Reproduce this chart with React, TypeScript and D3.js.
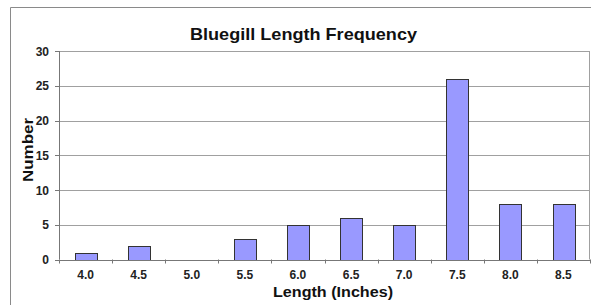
import * as d3 from "d3";

const lengths = ["4.0", "4.5", "5.0", "5.5", "6.0", "6.5", "7.0", "7.5", "8.0", "8.5"];
const counts = [1, 2, 0, 3, 5, 6, 5, 26, 8, 8];
const yTicks = [0, 5, 10, 15, 20, 25, 30];

const W = 591;
const H = 305;
const m = { left: 59, top: 51, right: 1, bottom: 45.5 };

export default function App() {
  const x = d3
    .scaleBand<string>()
    .domain(lengths)
    .range([m.left, W - m.right]);
  const y = d3
    .scaleLinear()
    .domain([0, 30])
    .range([H - m.bottom, m.top]);

  const barW = x.bandwidth() * 0.41;
  const font = "Arial, 'Liberation Sans', sans-serif";
  const plotBottom = y(0);
  const plotRight = W - m.right;

  // band edges for the category ticks
  const edges = lengths.map((d) => x(d) as number).concat([plotRight]);

  return (
    <svg
      width={W}
      height={H}
      style={{ position: "absolute", left: 0, top: 0, background: "#fff" }}
      fontFamily={font}
    >
      {/* outer chart frame */}
      <path d={`M10.5,${H} V7.5 H${W}`} fill="none" stroke="#8a8a8a" />

      <text
        x={303.5}
        y={40}
        textAnchor="middle"
        fontSize={17}
        fontWeight="bold"
        fill="#111"
        textLength={227}
        lengthAdjust="spacingAndGlyphs"
      >
        Bluegill Length Frequency
      </text>

      {/* gridlines */}
      {yTicks.slice(1).map((t) => (
        <line
          key={t}
          x1={m.left}
          x2={plotRight}
          y1={Math.round(y(t)) + 0.5}
          y2={Math.round(y(t)) + 0.5}
          stroke="#a0a0a0"
        />
      ))}
      <line x1={plotRight - 0.5} x2={plotRight - 0.5} y1={y(30)} y2={plotBottom} stroke="#a0a0a0" />

      {/* bars */}
      {lengths.map((d, i) => {
        const cx = (x(d) as number) + x.bandwidth() / 2;
        return (
          <rect
            key={d}
            x={Math.round(cx - barW / 2) + 0.5}
            y={Math.round(y(counts[i])) + 0.5}
            width={Math.round(barW)}
            height={Math.max(0, Math.round(plotBottom) - Math.round(y(counts[i])))}
            fill="#9999ff"
            stroke="#333"
            strokeWidth={1}
            display={counts[i] === 0 ? "none" : undefined}
          />
        );
      })}

      {/* axes */}
      <line x1={m.left + 0.5} x2={m.left + 0.5} y1={y(30)} y2={plotBottom} stroke="#777" />
      <line x1={m.left} x2={plotRight} y1={Math.round(plotBottom) + 0.5} y2={Math.round(plotBottom) + 0.5} stroke="#777" />
      {yTicks.map((t) => (
        <g key={t}>
          <line x1={m.left - 4} x2={m.left} y1={Math.round(y(t)) + 0.5} y2={Math.round(y(t)) + 0.5} stroke="#777" />
          <text x={49} y={y(t) + 4.5} textAnchor="end" fontSize={12} fontWeight="bold" fill="#222">
            {t}
          </text>
        </g>
      ))}
      {edges.map((e, i) => (
        <line
          key={i}
          x1={Math.round(e) + 0.5}
          x2={Math.round(e) + 0.5}
          y1={plotBottom}
          y2={plotBottom + 4}
          stroke="#777"
        />
      ))}
      {lengths.map((d) => (
        <text
          key={d}
          x={(x(d) as number) + x.bandwidth() / 2}
          y={278.5}
          textAnchor="middle"
          fontSize={12}
          fontWeight="bold"
          fill="#222"
        >
          {d}
        </text>
      ))}

      <text
        x={333}
        y={297}
        textAnchor="middle"
        fontSize={15}
        fontWeight="bold"
        fill="#111"
        textLength={120}
        lengthAdjust="spacingAndGlyphs"
      >
        Length (Inches)
      </text>
      <text
        transform={`translate(33,150) rotate(-90)`}
        textAnchor="middle"
        fontSize={15}
        fontWeight="bold"
        fill="#111"
        textLength={64}
        lengthAdjust="spacingAndGlyphs"
      >
        Number
      </text>
    </svg>
  );
}
